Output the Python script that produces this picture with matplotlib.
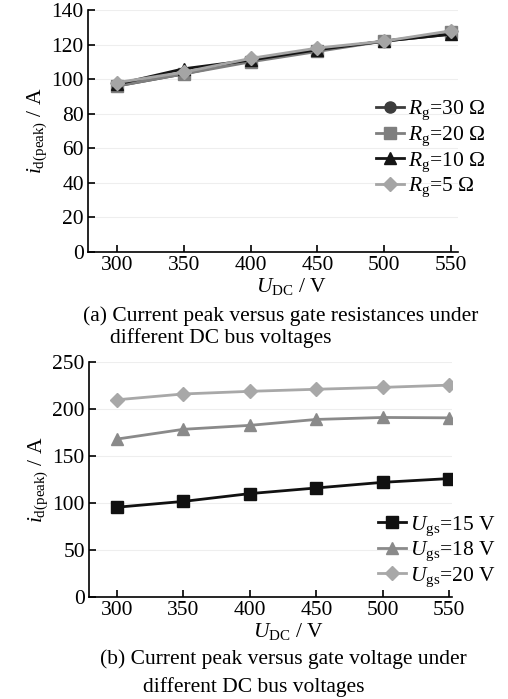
import matplotlib.pyplot as plt
import numpy as np

plt.rcParams['font.family'] = ['Liberation Serif', 'DejaVu Serif']
plt.rcParams['mathtext.fontset'] = 'custom'
plt.rcParams['mathtext.rm'] = 'Liberation Serif'
plt.rcParams['mathtext.it'] = 'Liberation Serif:italic'

u_dc = [300, 350, 400, 450, 500, 550]

# (a) gate resistance
rg_30 = [96, 103, 111, 117, 122, 126]
rg_20 = [96, 103, 110, 116, 122, 127]
rg_10 = [97, 106, 111, 117, 122, 126]
rg_5 = [98, 104, 112, 118, 122, 128]

# (b) gate voltage
ugs_15 = [95.5, 101.7, 110, 116, 122, 126]
ugs_18 = [168, 178.4, 182.6, 188.9, 191, 190.6]
ugs_20 = [209.8, 216, 218.8, 221, 223, 225.4]

W, H = 508, 699
fig = plt.figure(figsize=(W / 100, H / 100), dpi=100)

def ax_at(left, top, right, bottom):
    return fig.add_axes([left / W, 1 - bottom / H, (right - left) / W, (bottom - top) / H])

ylab = r'$i_{\mathrm{d(peak)}}$ / A'
xlab = r'$U_{\mathrm{DC}}$ / V'
fs = 15.5

def style(ax):
    for s in ['top', 'right']:
        ax.spines[s].set_visible(False)
    ax.spines['left'].set_linewidth(1.2)
    ax.spines['bottom'].set_linewidth(1.2)
    ax.tick_params(direction='in', labelsize=fs, length=5, width=1.2, pad=3)
    ax.yaxis.grid(True, color='#eeeeee', lw=0.8)
    ax.set_axisbelow(True)
    ax.set_xticks(u_dc)
    ax.set_ylabel(ylab, fontsize=fs, labelpad=2)
    ax.set_xlabel(xlab, fontsize=fs, labelpad=0)
    ax.xaxis.set_label_coords(0.55, -0.1)

# top chart
ax1 = ax_at(88, 10, 458, 252)
ax1.plot(u_dc, rg_30, '-o', color='#3c3c3c', lw=2, ms=8, label=r'$R_{\mathrm{g}}$=30 Ω')
ax1.plot(u_dc, rg_20, '-s', color='#7f7f7f', lw=2, ms=8, label=r'$R_{\mathrm{g}}$=20 Ω')
ax1.plot(u_dc, rg_10, '-^', color='#151515', lw=2, ms=8, label=r'$R_{\mathrm{g}}$=10 Ω')
ax1.plot(u_dc, rg_5, '-D', color='#a5a5a5', lw=2, ms=7, label=r'$R_{\mathrm{g}}$=5 Ω')
ax1.set_xlim(278.5, 555)
ax1.set_ylim(0, 140)
ax1.set_yticks(np.arange(0, 141, 20))
style(ax1)
ax1.legend(loc='upper left', bbox_to_anchor=(288 / 370, 1 - 89 / 242), frameon=False, fontsize=fs,
           handlelength=1.3, handletextpad=0.2, labelspacing=0.1, borderpad=0, borderaxespad=0)

# bottom chart
ax2 = ax_at(89, 362, 452, 597)
ax2.plot(u_dc, ugs_15, '-s', color='#111111', lw=2, ms=9, label=r'$U_{\mathrm{gs}}$=15 V')
ax2.plot(u_dc, ugs_18, '-^', color='#8a8a8a', lw=2, ms=8, label=r'$U_{\mathrm{gs}}$=18 V')
ax2.plot(u_dc, ugs_20, '-D', color='#a8a8a8', lw=2, ms=7, label=r'$U_{\mathrm{gs}}$=20 V')
ax2.set_xlim(279, 552)
ax2.set_ylim(0, 250)
ax2.set_yticks(np.arange(0, 251, 50))
style(ax2)
ax2.legend(loc='upper left', bbox_to_anchor=(289 / 363, 1 - 152 / 235), frameon=False, fontsize=fs,
           handlelength=1.3, handletextpad=0.2, labelspacing=0.1, borderpad=0, borderaxespad=0)

# captions
fig.text(281 / W, 1 - 316 / H, '(a) Current peak versus gate resistances under',
         ha='center', va='center', fontsize=fs)
fig.text(110 / W, 1 - 338 / H, 'different DC bus voltages', ha='left', va='center', fontsize=fs)
fig.text(100 / W, 1 - 659 / H, '(b) Current peak versus gate voltage under',
         ha='left', va='center', fontsize=fs)
fig.text(143 / W, 1 - 687 / H, 'different DC bus voltages', ha='left', va='center', fontsize=fs)

fig.savefig('out.png', dpi=100)
